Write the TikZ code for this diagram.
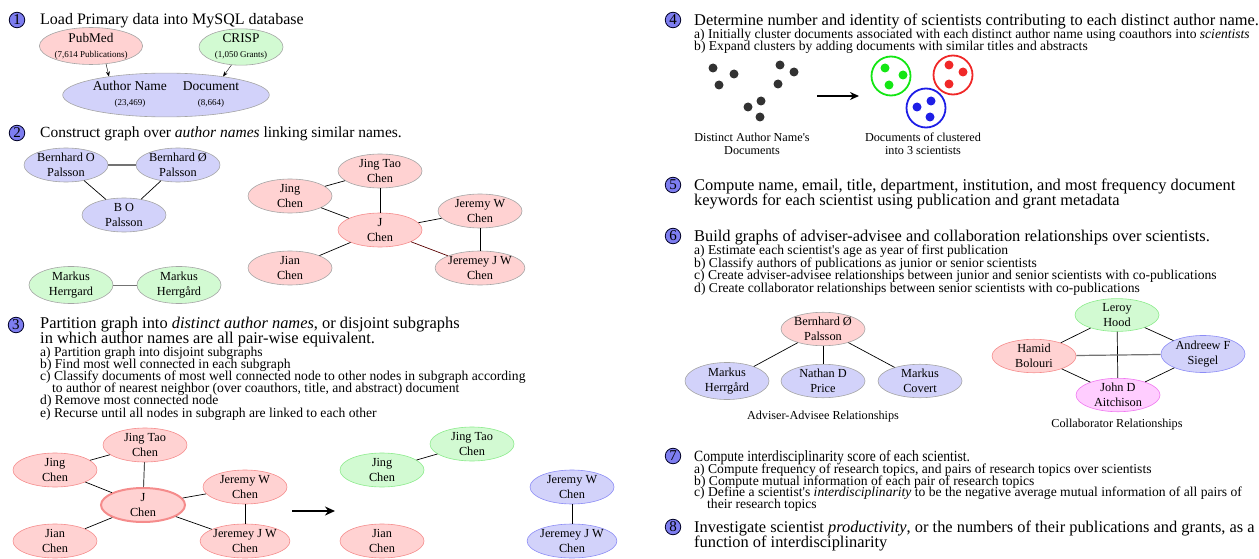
\documentclass[tikz,border=0pt]{standalone}
\usepackage{fontspec}
\setmainfont{Liberation Serif}
\newfontfamily\narrowserif[FakeStretch=0.87]{Liberation Serif}
\usetikzlibrary{shapes.geometric,arrows.meta,positioning}

\definecolor{pinkfill}{RGB}{255,210,210}
\definecolor{bluefill}{RGB}{210,210,250}
\definecolor{greenfill}{RGB}{210,250,210}
\definecolor{magfill}{RGB}{255,205,255}
\definecolor{ringgray}{RGB}{165,165,165}
\definecolor{ringred}{RGB}{245,140,140}
\definecolor{ringgreen}{RGB}{140,235,140}
\definecolor{ringblue}{RGB}{140,140,245}
\definecolor{ringmag}{RGB}{240,120,240}
\definecolor{ballblue}{RGB}{125,125,240}
\definecolor{dotgray}{RGB}{50,50,50}
\definecolor{docgreen}{RGB}{20,230,20}
\definecolor{docred}{RGB}{240,40,40}
\definecolor{docblue}{RGB}{30,30,230}

\newcommand{\tightlines}[2]{\fontsize{#1}{#2}\selectfont\lineskiplimit=-20pt\lineskip=0pt}
\newcommand{\apos}{\textquotesingle}

\tikzset{
  numball/.style={circle, draw=black!85!blue, fill=ballblue, line width=0.8, inner sep=0, minimum size=15.5, font=\fontsize{15}{15}\selectfont},
  headline/.style={anchor=base west, inner sep=0, align=left, font=\tightlines{16.4}{15}},
  subline/.style={anchor=base west, inner sep=0, align=left, font=\tightlines{13.6}{11.7}},
  author/.style={ellipse, draw=ringgray, line width=0.6, minimum width=84, minimum height=34, inner sep=0, align=center, font=\fontsize{12.3}{15}\selectfont},
  pinknode/.style={author, fill=pinkfill},
  bluenode/.style={author, fill=bluefill},
  greennode/.style={author, fill=greenfill},
  smallnode/.style={minimum width=84, minimum height=32},
  link/.style={line width=0.7},
  graylink/.style={line width=1.2, black!55},
  doc/.style={circle, fill=#1, inner sep=0, minimum size=9},
  cluster/.style={circle, draw=#1, line width=1.8, minimum size=39, inner sep=0},
  caption/.style={align=center, inner sep=0, font=\fontsize{12.2}{13.3}\selectfont},
  bigarrow/.style={line width=2, -{Stealth[length=10pt, width=9pt]}},
}

\begin{document}
\begin{tikzpicture}[x=1pt, y=-1pt]
\useasboundingbox (0,0) rectangle (1259,559);

% 1: loading
\node[numball] (n1) at (17,20) {1};
\node[headline, font=\fontsize{16}{15}\selectfont] (h1) at (40,25) {Load Primary data into MySQL database};
\node[pinknode, minimum width=85, minimum height=34, font=\fontsize{13.3}{15}\selectfont] (pubmed) at (91,46) {PubMed\\{\fontsize{9}{10}\selectfont(7,614 Publications)}};
\node[greennode, minimum width=84, minimum height=33, font=\fontsize{13.3}{15}\selectfont] (crisp) at (241,47) {CRISP\\{\fontsize{9}{10}\selectfont(1,050 Grants)}};
\node[bluenode, minimum width=166, minimum height=40, font=\fontsize{13.5}{16}\selectfont] (db) at (166,95)
  {\begin{tabular}{@{}c@{\hspace{16pt}}c@{}}Author Name & Document\\[-1pt] {\fontsize{9}{10}\selectfont(23,469)} & {\fontsize{9}{10}\selectfont(8,664)}\end{tabular}};
\draw[-{Stealth[length=5pt, width=4pt]}] (pubmed.-50) -- (db.162);
\draw[-{Stealth[length=5pt, width=4pt]}] (crisp.-118) -- (db.18);

% 2: similar names
\node[numball] (n2) at (17,133) {2};
\node[headline, font=\fontsize{15.5}{15}\selectfont] (h2) at (40,138) {Construct graph over \textit{author names} linking similar names.};
\node[bluenode] (pals1) at (66,165) {Bernhard O\\Palsson};
\node[bluenode] (pals2) at (178,165) {Bernhard Ø\\Palsson};
\node[bluenode] (pals3) at (124,215) {B O\\Palsson};
\node[greennode] (herr1) at (71,285) {Markus\\Herrgard};
\node[greennode] (herr2) at (179,285) {Markus\\Herrgård};
\draw[graylink] (pals1) -- (pals2);
\draw[link] (pals1) -- (pals3);
\draw[link] (pals2) -- (pals3);
\draw[link, black!55] (herr1) -- (herr2);

\node[pinknode] (jingtao2) at (380,171) {Jing Tao\\Chen};
\node[pinknode] (jing2) at (290,196) {Jing\\Chen};
\node[pinknode, draw=ringred] (jchen2) at (380,230) {J\\Chen};
\node[pinknode] (jeremyw2) at (480,211) {Jeremy W\\Chen};
\node[pinknode] (jian2) at (290,268) {Jian\\Chen};
\node[pinknode] (jeremey2) at (480,268) {Jeremey J W\\Chen};
\draw[link] (jing2) -- (jingtao2);
\draw[link] (jing2) -- (jchen2);
\draw[link] (jingtao2) -- (jchen2);
\draw[link] (jian2) -- (jchen2);
\draw[link] (jchen2) -- (jeremyw2);
\draw[link, black!50!red!70!black] (jchen2) -- (jeremey2);
\draw[link] (jeremyw2) -- (jeremey2);

% 3: partition
\node[numball] (n3) at (16,325) {3};
\node[headline] (h3) at (40,343.5) {Partition graph into \textit{distinct author names}, or disjoint subgraphs\\in which author names are all pair-wise equivalent.};
\node[subline, font=\tightlines{13.6}{12.1}] (s3) at (40,417) {a) Partition graph into disjoint subgraphs\\
b) Find most well connected in each subgraph\\
c) Classify documents of most well connected node to other nodes in subgraph according\\
\hspace*{12pt}to author of nearest neighbor (over coauthors, title, and abstract) document\\
d) Remove most connected node\\
e) Recurse until all nodes in subgraph are linked to each other};

\node[pinknode, draw=ringred] (jingtao3) at (145,445) {Jing Tao\\Chen};
\node[pinknode, draw=ringred] (jing3) at (55,470) {Jing\\Chen};
\node[pinknode, draw=ringred, line width=2] (jchen3) at (143,505) {J\\Chen};
\node[pinknode, draw=ringred] (jeremyw3) at (245,487) {Jeremy W\\Chen};
\node[pinknode, draw=ringred] (jian3) at (55,541) {Jian\\Chen};
\node[pinknode, draw=ringred] (jeremey3) at (245,541) {Jeremey J W\\Chen};
\draw[link] (jing3) -- (jingtao3);
\draw[link] (jing3) -- (jchen3);
\draw[link] (jingtao3) -- (jchen3);
\draw[link] (jian3) -- (jchen3);
\draw[link] (jchen3) -- (jeremyw3);
\draw[link] (jchen3) -- (jeremey3);
\draw[link] (jeremyw3) -- (jeremey3);

\coordinate (splitL) at (292,511);
\coordinate (splitR) at (335,511);
\draw[bigarrow] (splitL) -- (splitR);

\node[greennode, draw=ringgreen] (jingtao4) at (472,444) {Jing Tao\\Chen};
\node[greennode, draw=ringgreen] (jing4) at (382,470) {Jing\\Chen};
\node[pinknode, draw=ringred] (jian4) at (382,541) {Jian\\Chen};
\node[bluenode, draw=ringblue] (jeremyw4) at (572,487) {Jeremy W\\Chen};
\node[bluenode, draw=ringblue] (jeremey4) at (572,541) {Jeremey J W\\Chen};
\draw[link] (jing4) -- (jingtao4);
\draw[link] (jeremyw4) -- (jeremey4);

% 4: scientists behind a name
\node[numball] (n4) at (673,20) {4};
\node[headline] (h4) at (694,25.5) {Determine number and identity of scientists contributing to each distinct author name.};
\node[subline] (s4) at (694,50.7) {a) Initially cluster documents associated with each distinct author name using coauthors into \textit{scientists}\\
b) Expand clusters by adding documents with similar titles and abstracts};

\foreach \x/\y [count=\i] in {713/68, 734/74, 719/85, 780/65, 794/72, 778/84, 748/107, 761/101, 760/117}
  \node[doc=dotgray] (raw\i) at (\x,\y) {};
\coordinate (clusL) at (817,96);
\coordinate (clusR) at (859,96);
\draw[bigarrow, line width=1.8, -{Stealth[length=9pt, width=8pt]}] (clusL) -- (clusR);

\node[cluster=docgreen] (sciA) at (891,76) {};
\node[cluster=docred] (sciB) at (953,75) {};
\node[cluster=docblue] (sciC) at (926,108) {};
\foreach \x/\y [count=\i] in {885/68, 903/75, 889/85}
  \node[doc=docgreen] (ga\i) at (\x,\y) {};
\foreach \x/\y [count=\i] in {949/65, 963/72, 949/84}
  \node[doc=docred] (gb\i) at (\x,\y) {};
\foreach \x/\y [count=\i] in {917/107, 931/101, 930/117}
  \node[doc=docblue] (gc\i) at (\x,\y) {};
\node[caption] (rawcap) at (752,143.5) {Distinct Author Name\apos s\\Documents};
\node[caption] (scicap) at (923,143.5) {Documents of clustered\\into 3 scientists};

% 5: metadata
\node[numball] (n5) at (673,185) {5};
\node[headline] (h5) at (694,205.5) {Compute name, email, title, department, institution, and most frequency document\\keywords for each scientist using publication and grant metadata};

% 6: relationship graphs
\node[numball] (n6) at (673,236) {6};
\node[headline] (h6) at (694,241) {Build graphs of adviser-advisee and collaboration relationships over scientists.};
\node[subline, font=\tightlines{13.6}{12.4}] (s6) at (694,292) {a) Estimate each scientist\apos s age as year of first publication\\
b) Classify authors of publications as junior or senior scientists\\
c) Create adviser-advisee relationships between junior and senior scientists with co-publications\\
d) Create collaborator relationships between senior scientists with co-publications};

\node[pinknode, smallnode, minimum height=29] (palsson) at (823,329) {Bernhard Ø\\Palsson};
\node[bluenode, smallnode] (herrgard) at (727,381) {Markus\\Herrgård};
\node[bluenode, smallnode] (price) at (823,381) {Nathan D\\Price};
\node[bluenode, smallnode] (covert) at (920,381) {Markus\\Covert};
\draw[link] (palsson) -- (herrgard);
\draw[link] (palsson) -- (price);
\draw[link] (palsson) -- (covert);
\node[caption, below=30pt of price.center] (advcap) {Adviser-Advisee Relationships};

\node[greennode, smallnode, draw=ringgreen] (hood) at (1117,315) {Leroy\\Hood};
\node[pinknode, smallnode, draw=ringred] (bolouri) at (1034,356) {Hamid\\Bolouri};
\node[bluenode, smallnode, draw=ringblue] (siegel) at (1203,354) {Andreew F\\Siegel};
\node[author, smallnode, fill=magfill, draw=ringmag] (aitchison) at (1118,395) {John D\\Aitchison};
\draw[link] (hood) -- (bolouri);
\draw[link] (hood) -- (siegel);
\draw[link] (hood) -- (aitchison);
\draw[graylink] (bolouri) -- (siegel);
\draw[link] (bolouri) -- (aitchison);
\draw[link] (siegel) -- (aitchison);
\node[caption] (colcap) at (1117,425) {Collaborator Relationships};

% 7: interdisciplinarity
\node[numball] (n7) at (673,456) {7};
\node[headline, font=\narrowserif\fontsize{15.6}{15}\selectfont] (h7) at (694,461) {Compute interdisciplinarity score of each scientist.};
\node[subline] (s7) at (694,508.5) {a) Compute frequency of research topics, and pairs of research topics over scientists\\
b) Compute mutual information of each pair of research topics\\
c) Define a scientist\apos s \textit{interdisciplinarity} to be the negative average mutual information of all pairs of\\
\hspace*{13pt}their research topics};

% 8: productivity
\node[numball] (n8) at (673,527) {8};
\node[headline] (h8) at (694,547.5) {Investigate scientist \textit{productivity}, or the numbers of their publications and grants, as a\\function of interdisciplinarity};
\end{tikzpicture}
\end{document}
